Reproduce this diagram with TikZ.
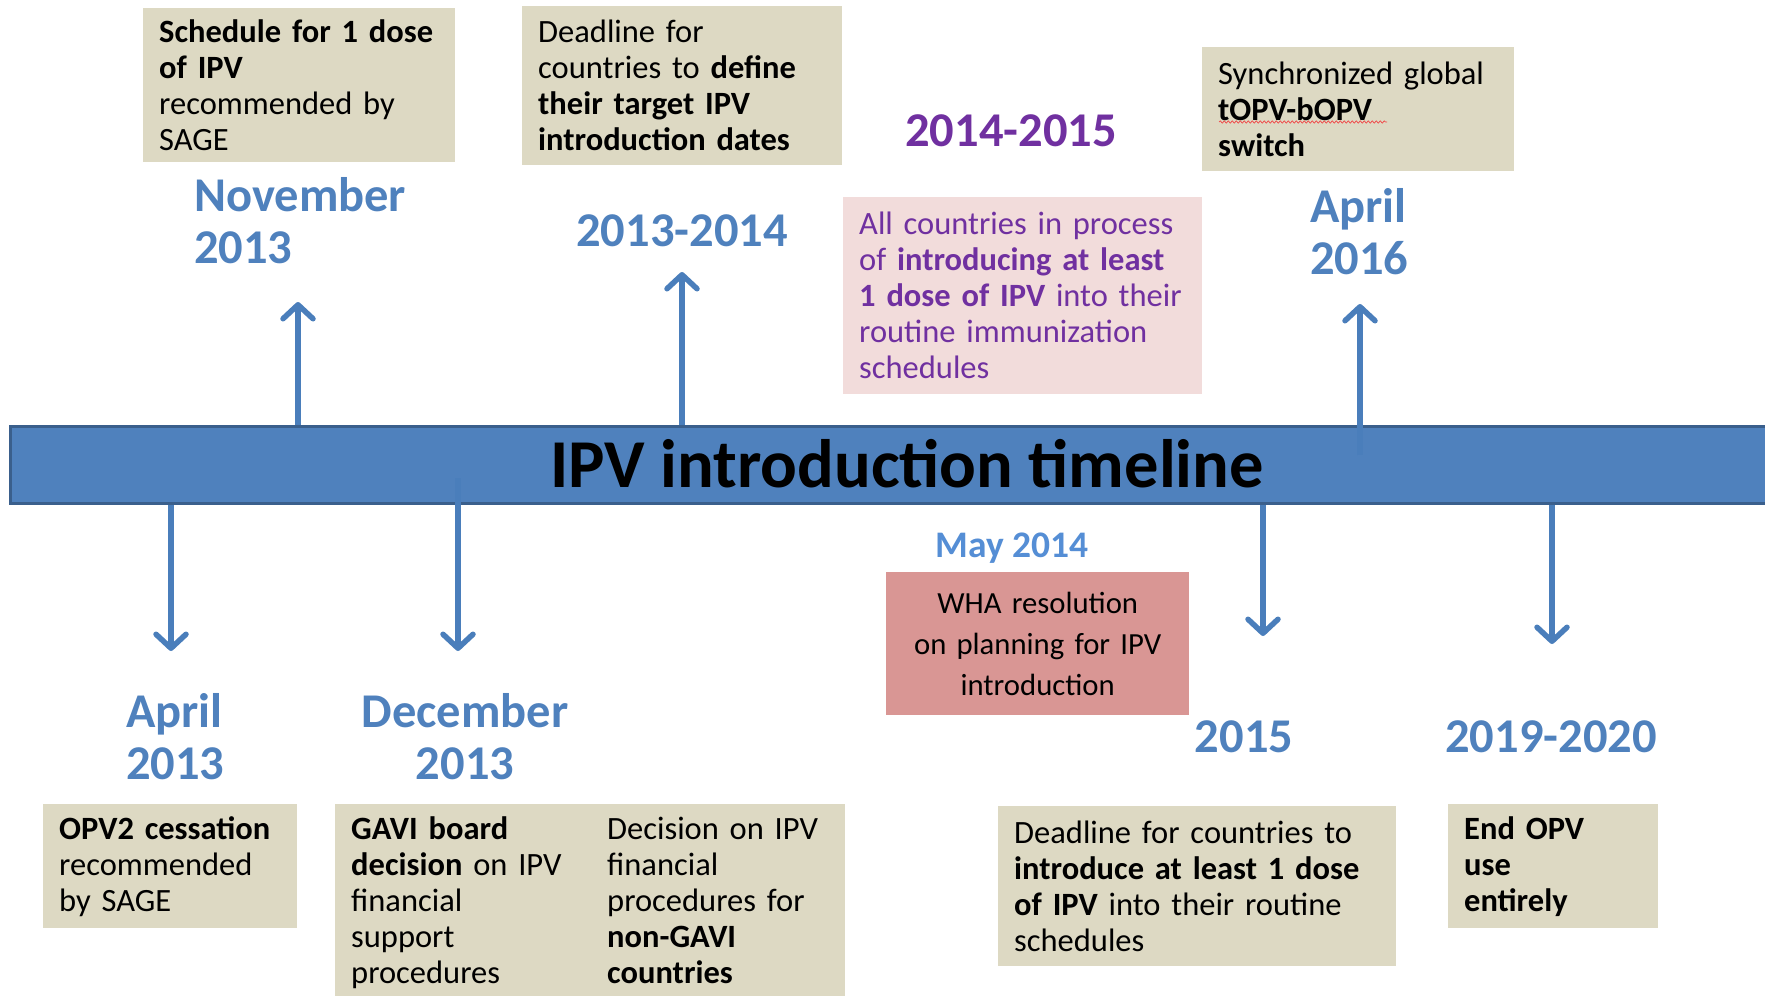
\documentclass[tikz,border=0pt]{standalone}
\usepackage{fontspec}
\setmainfont{Carlito}
\usetikzlibrary{arrows.meta,decorations.pathmorphing}

\definecolor{barblue}{HTML}{4F81BD}
\definecolor{bardark}{HTML}{3A5F8C}
\definecolor{arrowblue}{HTML}{4A7EBB}
\definecolor{tan}{HTML}{DDD9C3}
\definecolor{blush}{HTML}{F2DCDB}
\definecolor{rose}{HTML}{D99694}
\definecolor{datepurple}{HTML}{7030A0}
\definecolor{mayblue}{HTML}{558ED5}
\definecolor{spellred}{HTML}{F04848}

\def\ux{1pt}
\def\uy{1pt}

\begin{document}
\begin{tikzpicture}[x=\ux,y=-\uy]
  \tikzset{
    box/.style={fill=#1, anchor=north west, inner xsep=16pt, inner ysep=0pt,
      align=left, font=\fontsize{32.5}{36}\selectfont},
    tanbox/.style={box=tan},
    pinkbox/.style={box=blush, text=datepurple},
    rosebox/.style={box=rose, align=center, font=\fontsize{30.7}{41}\selectfont},
    date/.style={text=#1, inner sep=0pt, font=\bfseries\fontsize{48.5}{52}\selectfont},
    date/.default=barblue,
    bar/.style={fill=barblue, draw=bardark, line width=3pt, anchor=north west},
    arr/.style={draw=arrowblue, line width=5.5pt,
      -{Straight Barb[length=14pt,width=30pt,round]}},
  }
  \useasboundingbox (0,0) rectangle (1765,996);

  % the timeline bar
  \node[bar, minimum width=1766, minimum height=77] (timeline) at (9,425) {};
  \node[font=\bfseries\fontsize{68.5}{72}\selectfont, inner sep=0pt] (timelineTitle) at (907,464)
    {IPV introduction timeline};

  % events above the bar
  \node[tanbox, minimum width=312, minimum height=154, text width=280] (sageBox) at (143,8)
    {\textbf{Schedule for 1 dose}\\\textbf{of IPV}\\recommended by\\SAGE};
  \node[date, align=left, anchor=west] (novLbl) at (194,221) {November\\2013};

  \node[tanbox, minimum width=320, minimum height=159, text width=288] (deadlineBox) at (522,6)
    {Deadline for\\countries to \textbf{define}\\\textbf{their target IPV}\\\textbf{introduction dates}};
  \node[date] (termLbl) at (682,231) {2013-2014};

  \node[date=datepurple] (rolloutLbl) at (1011,131) {2014-2015};
  \node[pinkbox, minimum width=359, minimum height=197, text width=327] (processBox) at (843,197)
    {All countries in process\\of \textbf{introducing at least}\\\textbf{1 dose of IPV} into their\\routine immunization\\schedules};

  \node[tanbox, minimum width=312, minimum height=124, text width=280] (switchBox) at (1202,47)
    {Synchronized global\\\textbf{tOPV-bOPV}\\\textbf{switch}};
  \draw[spellred, line width=0.7pt, decorate, decoration={snake, amplitude=1.2pt, segment length=4pt}]
    (1219,122) -- (1387,122);
  \node[date, align=left, anchor=west] (switchLbl) at (1310,232) {April\\2016};

  % events below the bar
  \node[date, align=left, anchor=west] (cessationLbl) at (126,737) {April\\2013};
  \node[tanbox, minimum width=254, minimum height=124, text width=222] (cessationBox) at (43,804)
    {\textbf{OPV2 cessation}\\recommended\\by SAGE};

  \node[date, align=center] (gaviLbl) at (465,737) {December\\2013};
  \node[tanbox, minimum width=510, minimum height=200, text width=478] (gaviBox) at (335,804)
    {\begin{tabular}{@{}p{256pt}@{}l@{}}
      \textbf{GAVI board} & Decision on IPV\\
      \textbf{decision} on IPV & financial\\
      financial & procedures for\\
      support & \textbf{non-GAVI}\\
      procedures & \textbf{countries}
    \end{tabular}};

  \node[date=mayblue, font=\bfseries\fontsize{37.5}{40}\selectfont] (whaLbl) at (1012,548) {May 2014};
  \node[rosebox, minimum width=303, minimum height=143, text width=271] (whaBox) at (886,572)
    {WHA resolution\\on planning for IPV\\introduction};

  \node[date] (introLbl) at (1244,737) {2015};
  \node[tanbox, minimum width=398, minimum height=160, text width=366] (introBox) at (998,806)
    {Deadline for countries to\\\textbf{introduce at least 1 dose}\\\textbf{of IPV} into their routine\\schedules};

  \node[date] (endLbl) at (1551,737) {2019-2020};
  \node[tanbox, minimum width=210, minimum height=124, text width=178] (endBox) at (1448,804)
    {\textbf{End OPV}\\\textbf{use}\\\textbf{entirely}};

  % arrows
  \coordinate (novTip) at (298,302);
  \coordinate (termTip) at (682,272);
  \coordinate (switchTail) at (1360,455);
  \coordinate (switchTip) at (1360,304);
  \coordinate (cessationTip) at (171,651);
  \coordinate (gaviTail) at (458,478);
  \coordinate (gaviTip) at (458,651);
  \coordinate (introTip) at (1263,636);
  \coordinate (endTip) at (1552,644);

  \draw[arr] (timeline.north -| novTip) -- (novTip);
  \draw[arr] (timeline.north -| termTip) -- (termTip);
  \draw[arr] (switchTail) -- (switchTip);
  \draw[arr] (timeline.south -| cessationTip) -- (cessationTip);
  \draw[arr] (gaviTail) -- (gaviTip);
  \draw[arr] (timeline.south -| introTip) -- (introTip);
  \draw[arr] (timeline.south -| endTip) -- (endTip);
\end{tikzpicture}
\end{document}
